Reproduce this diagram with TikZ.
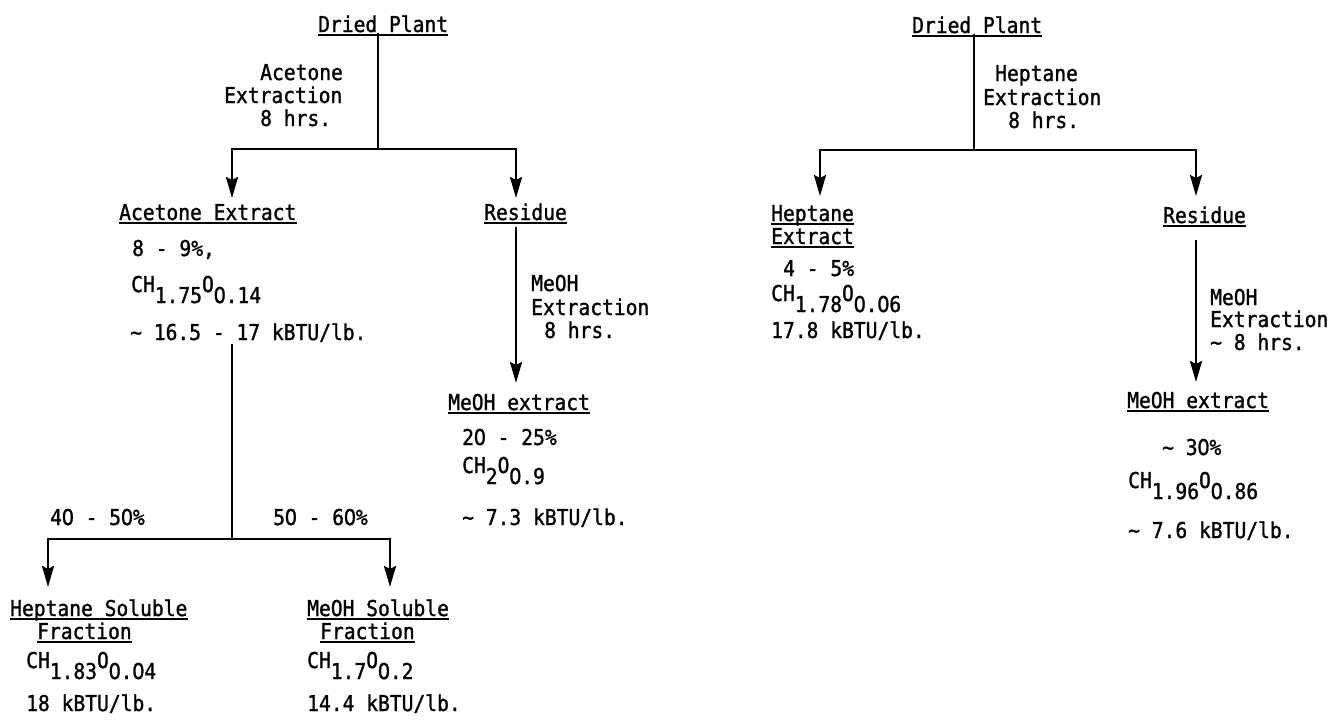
\documentclass[tikz,border=0pt]{standalone}
\usepackage{fontspec}
\newfontfamily\tw[FakeStretch=0.9,FakeBold=1.2]{DejaVu Sans Mono}
\newfontfamily\dvs[FakeStretch=0.9,FakeBold=1.2]{DejaVu Sans}
\usetikzlibrary{arrows.meta}
\newcommand\lowr[1]{\raisebox{-11pt}{#1}}
\newcommand\tld{\textasciitilde}
\newcommand\z{\makebox[0.5418em]{\dvs 0}}
\newcommand\ulnode[1]{\draw[ul] ([yshift=-3pt]#1.base west) -- ([yshift=-3pt]#1.base east);}
\begin{document}
\begin{tikzpicture}[x=1pt,y=-1pt,
  t/.style={anchor=base west, inner sep=0pt, font=\tw\fontsize{21.8}{24}\selectfont},
  ul/.style={line width=1.6pt},
  wire/.style={line width=2.6pt},
  arr/.style={wire, -{Stealth[length=21pt,width=12pt,inset=3pt]}}]
\useasboundingbox (0,0) rectangle (1334,724);
% ---------------- left tree ----------------
\node[t] (dp1) at (318,32) {Dried Plant};
\node[t] (la1) at (260,80) {Acetone};
\node[t] (la2) at (224,103) {Extraction};
\node[t] (la3) at (260,126) {8 hrs.};
\node[t] (ae) at (119,220) {Acetone Extract};
\node[t] (res1) at (484,220) {Residue};
\node[t] (ae1) at (132,256) {8 - 9\%,};
\node[t] (ae2) at (131,292) {CH\lowr{1.75}O\lowr{\z.14}};
\node[t] (ae3) at (130,340) {\tld{} 16.5 - 17 kBTU/lb.};
\node[t] (p1) at (50,525) {4\z{} - 5\z\%};
\node[t] (p2) at (273,525) {5\z{} - 6\z\%};
\node[t] (hs1) at (10,616) {Heptane Soluble};
\node[t] (hs2) at (37,639) {Fraction};
\node[t] (hs3) at (26,668) {CH\lowr{1.83}O\lowr{\z.\z4}};
\node[t] (hs4) at (26,711) {18 kBTU/lb.};
\node[t] (ms1) at (307,616) {MeOH Soluble};
\node[t] (ms2) at (320,639) {Fraction};
\node[t] (ms3) at (307,668) {CH\lowr{1.7}O\lowr{\z.2}};
\node[t] (ms4) at (307,711) {14.4 kBTU/lb.};
\node[t] (lm1) at (531,291) {MeOH};
\node[t] (lm2) at (531,315) {Extraction};
\node[t] (lm3) at (544,338) {8 hrs.};
\node[t] (me1) at (448,410) {MeOH extract};
\node[t] (me2) at (462,445) {2\z{} - 25\%};
\node[t] (me3) at (462,473) {CH\lowr{2}O\lowr{\z.9}};
\node[t] (me4) at (462,525) {\tld{} 7.3 kBTU/lb.};
\ulnode{dp1}\ulnode{ae}\ulnode{res1}\ulnode{hs1}\ulnode{hs2}\ulnode{ms1}\ulnode{ms2}\ulnode{me1}
\coordinate (j1) at (378,149);
\coordinate (t1) at (232,198);
\coordinate (t2) at (516,198);
\coordinate (t3) at (516,383);
\coordinate (j2) at (232,539);
\coordinate (t4) at (48,587);
\coordinate (t5) at (390,587);
\draw[wire] (dp1.south -| j1) -- (j1);
\draw[arr] (j1) -| (t1);
\draw[arr] (j1) -| (t2);
\draw[arr] (res1.south -| t3) ++(0,6) -- (t3);
\draw[wire] (ae3.south -| j2) ++(0,2) -- (j2);
\draw[arr] (j2) -| (t4);
\draw[arr] (j2) -| (t5);
% ---------------- right tree ----------------
\node[t] (dp2) at (912,33) {Dried Plant};
\node[t] (lh1) at (995,81) {Heptane};
\node[t] (lh2) at (983,105) {Extraction};
\node[t] (lh3) at (1008,128) {8 hrs.};
\node[t] (he1) at (771,221) {Heptane};
\node[t] (he2) at (771,244) {Extract};
\node[t] (he3) at (783,276) {4 - 5\%};
\node[t] (he4) at (771,301) {CH\lowr{1.78}O\lowr{\z.\z6}};
\node[t] (he5) at (771,338) {17.8 kBTU/lb.};
\node[t] (res2) at (1163,223) {Residue};
\node[t] (rm1) at (1210,305) {MeOH};
\node[t] (rm2) at (1210,327) {Extraction};
\node[t] (rm3) at (1210,350) {\tld{} 8 hrs.};
\node[t] (mx1) at (1127,408) {MeOH extract};
\node[t] (mx2) at (1162,455) {\tld{} 3\z\%};
\node[t] (mx3) at (1128,488) {CH\lowr{1.96}O\lowr{\z.86}};
\node[t] (mx4) at (1128,538) {\tld{} 7.6 kBTU/lb.};
\ulnode{dp2}\ulnode{he1}\ulnode{he2}\ulnode{res2}\ulnode{mx1}
\coordinate (k1) at (974,150);
\coordinate (t6) at (820,196);
\coordinate (t7) at (1196,196);
\coordinate (t8) at (1196,382);
\draw[wire] (dp2.south -| k1) -- (k1);
\draw[arr] (k1) -| (t6);
\draw[arr] (k1) -| (t7);
\draw[arr] (res2.south -| t8) ++(0,16) -- (t8);
\end{tikzpicture}
\end{document}
